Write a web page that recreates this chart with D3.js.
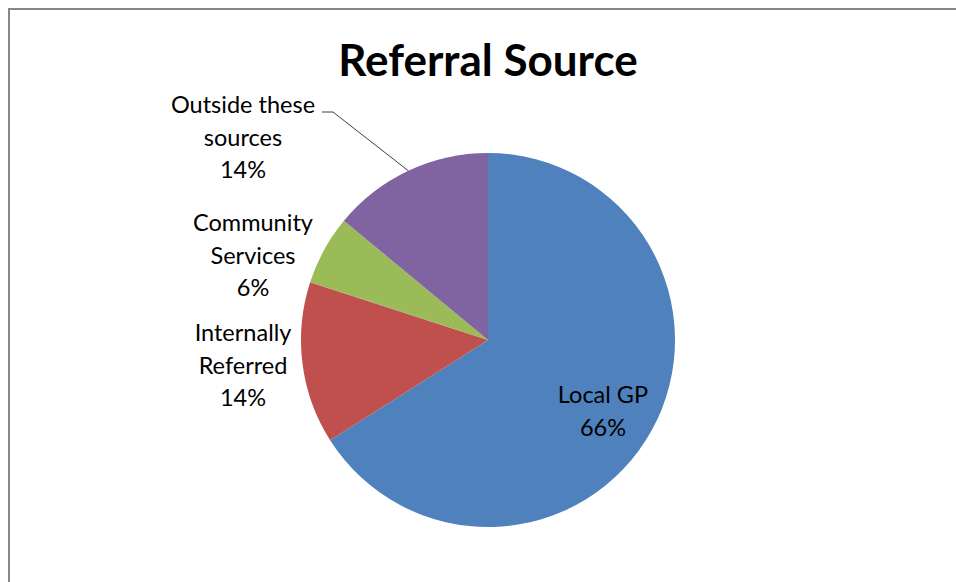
<!DOCTYPE html>
<html>
<head>
<meta charset="utf-8">
<script src="https://cdn.jsdelivr.net/npm/d3@7"></script>
<style>
  body { margin: 0; background: #fff; }
  svg text { font-family: Lato, "Open Sans", sans-serif; fill: #000; }
</style>
</head>
<body>
<svg id="chart"></svg>
<script>
const categories = ["Local GP", "Internally Referred", "Community Services", "Outside these sources"];
const values = [66, 14, 6, 14];
const colors = ["#4F81BD", "#C0504D", "#9BBB59", "#8064A2"];
// label lines as shown in the picture
const labelLines = [
  ["Local GP", "66%"],
  ["Internally", "Referred", "14%"],
  ["Community", "Services", "6%"],
  ["Outside these", "sources", "14%"]
];
const labelPos = [[603, 403], [243, 341], [253, 231], [243, 113]];

const width = 956, height = 582;
const cx = 488, cy = 340, r = 187;

const svg = d3.select("#chart")
  .attr("width", width)
  .attr("height", height);

// chart frame (only top/left edge visible in the crop)
svg.append("rect")
  .attr("x", 9).attr("y", 9)
  .attr("width", 1000).attr("height", 700)
  .attr("fill", "none")
  .attr("stroke", "#868686")
  .attr("stroke-width", 2);

svg.append("text")
  .attr("x", cx).attr("y", 76)
  .attr("text-anchor", "middle")
  .attr("font-weight", "bold")
  .attr("font-size", 44)
  .text("Referral Source");

const data = categories.map((c, i) => ({ name: c, value: values[i], color: colors[i], lines: labelLines[i], pos: labelPos[i] }));

const pie = d3.pie().sort(null).value(d => d.value);
const arc = d3.arc().innerRadius(0).outerRadius(r);
const arcs = pie(data);

const g = svg.append("g").attr("transform", `translate(${cx},${cy})`);
g.selectAll("path")
  .data(arcs)
  .join("path")
  .attr("d", arc)
  .attr("fill", d => d.data.color);

// leader line for the outside label
const outside = arcs[3];
const mid = (outside.startAngle + outside.endAngle) / 2;
const ex = cx + r * Math.sin(mid), ey = cy - r * Math.cos(mid);
svg.append("path")
  .attr("d", `M${322},${112} L${333},${112} L${ex},${ey}`)
  .attr("fill", "none")
  .attr("stroke", "#404040")
  .attr("stroke-width", 1);

const labels = svg.selectAll(".lbl")
  .data(data)
  .join("text")
  .attr("class", "lbl")
  .attr("text-anchor", "middle")
  .attr("font-size", 23.5);
labels.each(function (d) {
  const t = d3.select(this);
  d.lines.forEach((line, i) => {
    t.append("tspan")
      .attr("x", d.pos[0])
      .attr("y", d.pos[1] + i * 32.5)
      .text(line);
  });
});
</script>
</body>
</html>
